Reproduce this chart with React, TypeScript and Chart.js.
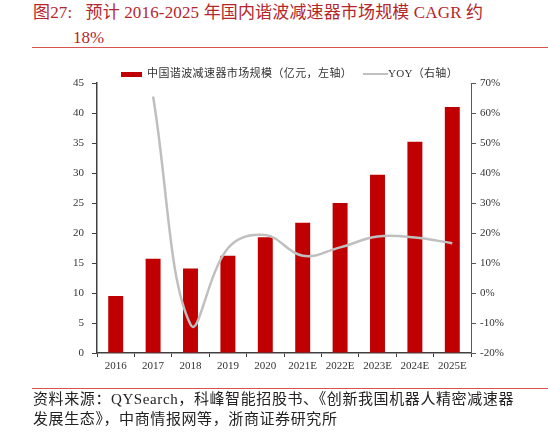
import React, { useEffect, useRef } from "react";
import { Chart, registerables } from "chart.js";

Chart.register(...registerables);

const categories = ["2016", "2017", "2018", "2019", "2020", "2021E", "2022E", "2023E", "2024E", "2025E"];
const marketSize = [9.5, 15.7, 14.1, 16.2, 19.3, 21.7, 25.0, 29.7, 35.2, 41.0];
const yoy = [null, 65.5, -10.5, 14.9, 19.3, 12.4, 15.2, 18.8, 18.5, 16.6];
const leftTicks = [0, 5, 10, 15, 20, 25, 30, 35, 40, 45];
const rightTicks = [-20, -10, 0, 10, 20, 30, 40, 50, 60, 70];

const titleLine1 = "图27:   预计 2016-2025 年国内谐波减速器市场规模 CAGR 约";
const titleLine2 = "18%";
const legendBar = "中国谐波减速器市场规模（亿元，左轴）";
const legendLine = "YOY（右轴）";
const source1 = "资料来源：QYSearch，科峰智能招股书、《创新我国机器人精密减速器";
const source2 = "发展生态》，中商情报网等，浙商证券研究所";

const FONT = '"Liberation Serif", "Noto Sans CJK SC", serif';
const RED = "#C00000";
const TITLE_RED = "#B5262B";

export default function App() {
  const ref = useRef<HTMLCanvasElement | null>(null);

  useEffect(() => {
    if (!ref.current) return;
    const chart = new Chart(ref.current, {
      type: "bar",
      data: {
        labels: categories,
        datasets: [
          {
            type: "line",
            label: "YOY",
            data: yoy as any,
            yAxisID: "y1",
            borderColor: "#BFBFBF",
            borderWidth: 2.5,
            pointRadius: 0,
            tension: 0.4,
            fill: false,
            order: 0,
          } as any,
          {
            type: "bar",
            label: "规模",
            data: marketSize,
            yAxisID: "y",
            backgroundColor: RED,
            borderWidth: 0,
            barPercentage: 0.4,
            categoryPercentage: 1,
            order: 1,
          },
        ],
      },
      options: {
        animation: false,
        responsive: true,
        maintainAspectRatio: false,
        layout: { padding: { top: 23, left: 0, right: 0, bottom: 0 } },
        plugins: { legend: { display: false }, tooltip: { enabled: false } },
        scales: {
          x: {
            grid: { display: true, drawOnChartArea: false, drawTicks: true, tickLength: 4, color: "#404040", offset: true },
            border: { display: true, color: "#404040", width: 1.5 },
            ticks: { color: "#333", font: { family: FONT, size: 11 }, padding: 3, maxRotation: 0, autoSkip: false },
            afterFit: (s: any) => { s.height = 37; },
          },
          y: {
            position: "left",
            min: 0,
            max: 45,
            afterBuildTicks: (s: any) => { s.ticks = leftTicks.map((v) => ({ value: v })); },
            grid: { display: true, drawOnChartArea: false, drawTicks: true, tickLength: 5, color: "#404040" },
            border: { display: true, color: "#404040", width: 1.5 },
            ticks: { color: "#333", font: { family: FONT, size: 11 }, padding: 8 },
            afterFit: (s: any) => { s.width = 97; },
          },
          y1: {
            position: "right",
            min: -20,
            max: 70,
            afterBuildTicks: (s: any) => { s.ticks = rightTicks.map((v) => ({ value: v })); },
            grid: { display: true, drawOnChartArea: false, drawTicks: true, tickLength: 5, color: "#595959" },
            border: { display: true, color: "#595959", width: 1 },
            ticks: { color: "#333", font: { family: FONT, size: 11 }, padding: 4, callback: (v: any) => v + "%" },
            afterFit: (s: any) => { s.width = 77; },
          },
        },
      },
    });
    return () => chart.destroy();
  }, []);

  return (
    <div style={{ position: "fixed", left: 0, top: 0, width: 548, height: 432, background: "#fff", fontFamily: FONT, overflow: "hidden" }}>
      <div style={{ position: "absolute", left: 33, top: 3, fontSize: 17, letterSpacing: 0.15, color: TITLE_RED, whiteSpace: "pre", lineHeight: "20px" }}>{titleLine1}</div>
      <div style={{ position: "absolute", left: 73, top: 28, fontSize: 17, color: TITLE_RED, whiteSpace: "pre", lineHeight: "20px" }}>{titleLine2}</div>
      <div style={{ position: "absolute", left: 32, top: 47, width: 516, height: 1, background: "#D9534F" }} />

      <div style={{ position: "absolute", left: 0, top: 60, width: 548, height: 330 }}>
        <canvas ref={ref} />
      </div>

      <div style={{ position: "absolute", left: 121, top: 72, width: 21, height: 5, background: RED }} />
      <div style={{ position: "absolute", left: 147, top: 66, fontSize: 11, letterSpacing: 0.4, lineHeight: "14px", color: "#333", whiteSpace: "pre" }}>{legendBar}</div>
      <div style={{ position: "absolute", left: 363, top: 73, width: 25, height: 2, background: "#BFBFBF" }} />
      <div style={{ position: "absolute", left: 388, top: 66, fontSize: 11, letterSpacing: 0.3, lineHeight: "14px", color: "#333", whiteSpace: "pre" }}>{legendLine}</div>

      <div style={{ position: "absolute", left: 32, top: 388, width: 516, height: 1, background: "#D9534F" }} />
      <div style={{ position: "absolute", left: 33, top: 389, fontSize: 15, letterSpacing: 0.6, lineHeight: "20px", color: "#222", whiteSpace: "pre" }}>{source1}</div>
      <div style={{ position: "absolute", left: 33, top: 409, fontSize: 15, letterSpacing: 0.6, lineHeight: "20px", color: "#222", whiteSpace: "pre" }}>{source2}</div>
    </div>
  );
}
